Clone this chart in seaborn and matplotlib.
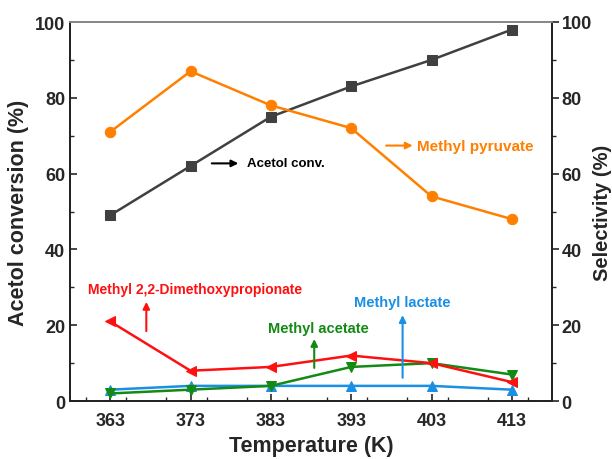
import matplotlib
matplotlib.use("Agg")
import matplotlib.pyplot as plt
import seaborn as sns
import pandas as pd
from matplotlib.ticker import MultipleLocator

temperature = [363, 373, 383, 393, 403, 413]
acetol_conv = [49, 62, 75, 83, 90, 98]
methyl_pyruvate = [71, 87, 78, 72, 54, 48]
methyl_dmp = [21, 8, 9, 12, 10, 5]
methyl_acetate = [2, 3, 4, 9, 10, 7]
methyl_lactate = [3, 4, 4, 4, 4, 3]

sns.set_style("ticks")
plt.rcParams['font.family'] = ['Liberation Sans', 'DejaVu Sans']
plt.rcParams['font.weight'] = 'bold'

fig = plt.figure(figsize=(6.12, 4.6), dpi=100)
ax = fig.add_axes([0.1144, 0.126, 0.7876, 0.824])
ax2 = ax.twinx()

df = pd.DataFrame({"T": temperature, "conv": acetol_conv, "pyr": methyl_pyruvate,
                   "dmp": methyl_dmp, "ace": methyl_acetate, "lac": methyl_lactate})

lw = 1.8
ms = 7.5
sns.lineplot(data=df, x="T", y="conv", ax=ax, color="#404040", marker="s", markersize=ms,
             markeredgecolor="#404040", linewidth=lw)
sns.lineplot(data=df, x="T", y="lac", ax=ax, color="#1a8fe3", marker="^", markersize=ms,
             markeredgecolor="#1a8fe3", linewidth=lw)
sns.lineplot(data=df, x="T", y="ace", ax=ax, color="#138a13", marker="v", markersize=ms,
             markeredgecolor="#138a13", linewidth=lw)
sns.lineplot(data=df, x="T", y="dmp", ax=ax, color="#ff1010", marker="<", markersize=ms,
             markeredgecolor="#ff1010", linewidth=lw)
sns.lineplot(data=df, x="T", y="pyr", ax=ax2, color="#ff8000", marker="o", markersize=ms,
             markeredgecolor="#ff8000", linewidth=lw)

for a in (ax, ax2):
    a.set_xlim(358, 418)
    a.set_ylim(0, 100)
ax.set_xticks(temperature)
ax.xaxis.set_minor_locator(MultipleLocator(5))
ax.yaxis.set_major_locator(MultipleLocator(20))
ax.yaxis.set_minor_locator(MultipleLocator(10))
ax2.yaxis.set_major_locator(MultipleLocator(20))
ax2.yaxis.set_minor_locator(MultipleLocator(10))

ax.tick_params(axis='both', which='major', direction='in', length=5, width=1.2, labelsize=13)
ax.tick_params(axis='both', which='minor', direction='in', length=3, width=1.0)
ax.tick_params(axis='x', pad=8)
ax2.tick_params(axis='y', which='major', direction='out', length=5, width=1.2, labelsize=13, pad=2)
ax2.tick_params(axis='y', which='minor', direction='out', length=3, width=1.0)

for a in (ax, ax2):
    for s in a.spines.values():
        s.set_linewidth(1.3)
        s.set_color("#222222")
ax.spines['top'].set_color("#888888")
ax2.spines['top'].set_color("#888888")

for lab in ax.get_xticklabels() + ax.get_yticklabels() + ax2.get_yticklabels():
    lab.set_fontweight('bold')

ax.set_xlabel("Temperature (K)", fontsize=15.5, fontweight='bold', labelpad=4)
ax.set_ylabel("Acetol conversion (%)", fontsize=15.5, fontweight='bold', labelpad=4)
ax2.set_ylabel("Selectivity (%)", fontsize=14.5, fontweight='bold', labelpad=1)

def note(text, xy_text, arrow_from, arrow_to, color, size=10.5, ha='left'):
    ax.annotate("", xy=arrow_to, xytext=arrow_from,
                arrowprops=dict(arrowstyle="-|>", color=color, lw=1.5, mutation_scale=10))
    ax.text(xy_text[0], xy_text[1], text, color=color, fontsize=size, fontweight='bold',
            ha=ha, va='center')

note("Acetol conv.", (380.0, 62.7), (375.3, 62.7), (379.3, 62.7), "black", size=9.5)
note("Methyl pyruvate", (401.2, 67.4), (397.0, 67.4), (401.0, 67.4), "#ff8000", size=11)
note("Methyl 2,2-Dimethoxypropionate", (360.2, 29.5), (367.5, 17.7), (367.5, 26.9), "#ff1010", size=10)
note("Methyl acetate", (382.6, 19.4), (388.4, 8.0), (388.4, 17.1), "#138a13", size=10.5)
note("Methyl lactate", (399.3, 26.2), (399.4, 5.4), (399.4, 23.4), "#1a8fe3", size=10.5, ha='center')

fig.savefig("out.png", dpi=100)
